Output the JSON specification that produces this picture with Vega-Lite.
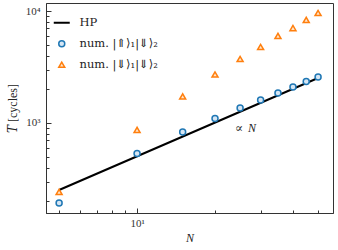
{
  "$schema": "https://vega.github.io/schema/vega-lite/v6.json",
  "width": 287,
  "height": 210,
  "autosize": {"type": "none"},
  "padding": {"left": 46, "top": 3, "right": 5, "bottom": 37},
  "background": "white",
  "config": {
    "view": {"stroke": "#333", "strokeWidth": 1},
    "font": "Liberation Serif, DejaVu Serif, serif",
    "axis": {
      "grid": false,
      "domainColor": "#333",
      "tickColor": "#333",
      "labelFont": "Liberation Serif, DejaVu Serif, serif",
      "labelFontSize": 11,
      "labelColor": "#333",
      "titleFont": "Liberation Serif, DejaVu Serif, serif",
      "titleFontSize": 12,
      "titleFontWeight": "normal",
      "titleColor": "#222"
    },
    "legend": {
      "labelFont": "DejaVu Serif, DejaVu Sans, Noto Sans",
      "labelFontSize": 11.5,
      "labelColor": "#222"
    }
  },
  "datasets": {
    "hp": [
      {"N": 5, "T": 252, "series": "HP"},
      {"N": 50, "T": 2520, "series": "HP"}
    ],
    "num": [
      {"N": 5, "T": 193, "series": "num. |⇑⟩₁|⇓⟩₂"},
      {"N": 10, "T": 534, "series": "num. |⇑⟩₁|⇓⟩₂"},
      {"N": 15, "T": 831, "series": "num. |⇑⟩₁|⇓⟩₂"},
      {"N": 20, "T": 1097, "series": "num. |⇑⟩₁|⇓⟩₂"},
      {"N": 25, "T": 1361, "series": "num. |⇑⟩₁|⇓⟩₂"},
      {"N": 30, "T": 1603, "series": "num. |⇑⟩₁|⇓⟩₂"},
      {"N": 35, "T": 1853, "series": "num. |⇑⟩₁|⇓⟩₂"},
      {"N": 40, "T": 2096, "series": "num. |⇑⟩₁|⇓⟩₂"},
      {"N": 45, "T": 2349, "series": "num. |⇑⟩₁|⇓⟩₂"},
      {"N": 50, "T": 2578, "series": "num. |⇑⟩₁|⇓⟩₂"},
      {"N": 5, "T": 242, "series": "num. |⇓⟩₁|⇓⟩₂"},
      {"N": 10, "T": 866, "series": "num. |⇓⟩₁|⇓⟩₂"},
      {"N": 15, "T": 1725, "series": "num. |⇓⟩₁|⇓⟩₂"},
      {"N": 20, "T": 2711, "series": "num. |⇓⟩₁|⇓⟩₂"},
      {"N": 25, "T": 3728, "series": "num. |⇓⟩₁|⇓⟩₂"},
      {"N": 30, "T": 4772, "series": "num. |⇓⟩₁|⇓⟩₂"},
      {"N": 35, "T": 5986, "series": "num. |⇓⟩₁|⇓⟩₂"},
      {"N": 40, "T": 7046, "series": "num. |⇓⟩₁|⇓⟩₂"},
      {"N": 45, "T": 8318, "series": "num. |⇓⟩₁|⇓⟩₂"},
      {"N": 50, "T": 9597, "series": "num. |⇓⟩₁|⇓⟩₂"}
    ],
    "ann": [
      {"N": 23.9, "T": 903, "sym": "∝", "var": "N"}
    ]
  },
  "encoding": {
    "x": {
      "field": "N",
      "type": "quantitative",
      "scale": {"type": "log", "domain": [4.45, 57.1], "nice": false},
      "axis": {
        "title": "N",
        "titleFontStyle": "italic",
        "values": [5, 6, 7, 8, 9, 10, 20, 30, 40, 50],
        "labelExpr": "datum.value == 10 ? '10¹' : ''",
        "tickSize": {"condition": {"test": "datum.value == 10", "value": -5}, "value": -3},
        "labelPadding": 9,
        "titlePadding": 4
      }
    },
    "y": {
      "field": "T",
      "type": "quantitative",
      "scale": {"type": "log", "domain": [157, 11790], "nice": false},
      "axis": {
        "title": "𝑇 [cycles]",
        "values": [200, 300, 400, 500, 600, 700, 800, 900, 1000, 2000, 3000, 4000, 5000, 6000, 7000, 8000, 9000, 10000],
        "labelExpr": "datum.value == 1000 ? '10³' : datum.value == 10000 ? '10⁴' : ''",
        "tickSize": {"condition": {"test": "datum.value == 1000 || datum.value == 10000", "value": -5}, "value": -3},
        "labelPadding": 11,
        "titlePadding": 6
      }
    }
  },
  "layer": [
    {
      "data": {"name": "hp"},
      "mark": {"type": "line", "strokeWidth": 2},
      "encoding": {
        "stroke": {
          "field": "series",
          "type": "nominal",
          "scale": {
            "domain": ["HP", "num. |⇑⟩₁|⇓⟩₂", "num. |⇓⟩₁|⇓⟩₂"],
            "range": ["#000000", "#1f77b4", "#ff7f0e"]
          },
          "legend": {
            "title": null,
            "orient": "none",
            "legendX": 10,
            "legendY": 14,
            "rowPadding": 8,
            "labelOffset": 12,
            "symbolStrokeWidth": 1.5,
            "encode": {
              "symbols": {
                "update": {
                  "size": {"signal": "datum.value === 'HP' ? 256 : 36"},
                  "strokeWidth": {"signal": "datum.value === 'HP' ? 2 : 1.5"},
                  "fill": {"signal": "datum.value === 'HP' ? 'transparent' : datum.value === 'num. |⇑⟩₁|⇓⟩₂' ? '#d6e6f4' : '#ffe6cc'"}
                }
              }
            }
          }
        }
      }
    },
    {
      "data": {"name": "num"},
      "mark": {"type": "point", "filled": false, "size": 36, "strokeWidth": 1.5, "opacity": 1},
      "encoding": {
        "stroke": {"field": "series", "type": "nominal"},
        "shape": {
          "field": "series",
          "type": "nominal",
          "scale": {
            "domain": ["HP", "num. |⇑⟩₁|⇓⟩₂", "num. |⇓⟩₁|⇓⟩₂"],
            "range": ["stroke", "circle", "triangle-up"]
          }
        },
        "fill": {
          "field": "series",
          "type": "nominal",
          "scale": {
            "domain": ["HP", "num. |⇑⟩₁|⇓⟩₂", "num. |⇓⟩₁|⇓⟩₂"],
            "range": ["transparent", "#d6e6f4", "#ffe6cc"]
          },
          "legend": null
        }
      }
    },
    {
      "data": {"name": "ann"},
      "mark": {"type": "text", "align": "left", "baseline": "middle", "fontSize": 12, "color": "#222"},
      "encoding": {
        "text": {"field": "sym"}
      }
    },
    {
      "data": {"name": "ann"},
      "mark": {"type": "text", "align": "left", "baseline": "middle", "fontSize": 12, "fontStyle": "italic", "dx": 13, "color": "#222"},
      "encoding": {
        "text": {"field": "var"}
      }
    }
  ]
}
